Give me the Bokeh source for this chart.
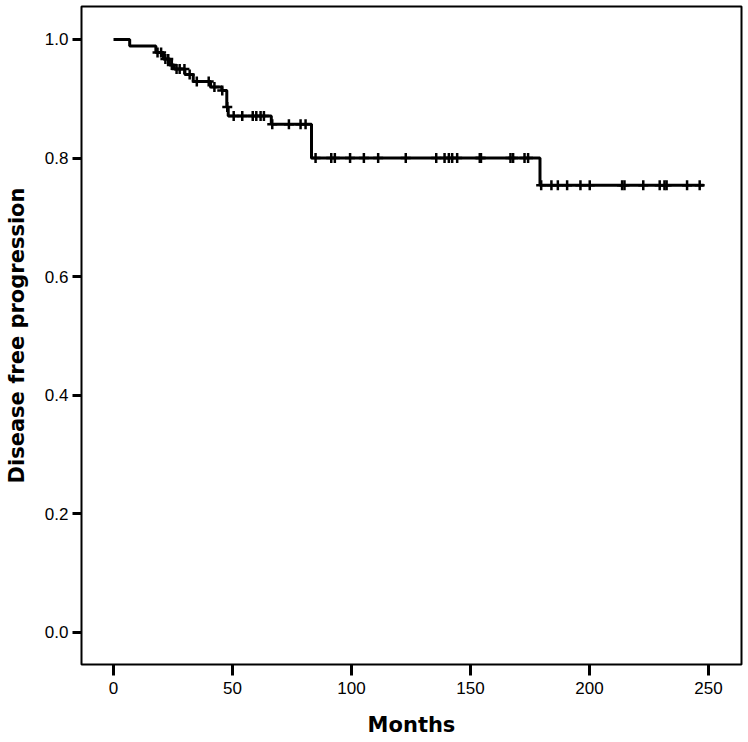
import numpy as np
from bokeh.plotting import figure
from bokeh.models import Range1d, FixedTicker, CustomJSTickFormatter
from bokeh.embed import file_html
from bokeh.resources import INLINE

# Kaplan-Meier step points (months, survival after the step)
step_months = [0, 6.8, 17.8, 21.0, 23.5, 25.5, 30.0, 33.5, 40.8, 45.5, 47.6, 48.2, 66.3, 83.2, 179.2, 248.0]
step_surv = [1.0, 0.989, 0.978, 0.967, 0.957, 0.950, 0.941, 0.929, 0.920, 0.914, 0.886, 0.871, 0.857, 0.800, 0.754, 0.754]

# censored observations (months)
censor_months = [18.5, 20.0, 21.8, 23.0, 24.5, 26.5, 27.8, 29.8, 32.0, 35.0, 40.0, 42.4, 45.7, 47.8,
                 50.5, 54.1, 58.5, 60.0, 61.8, 63.2, 66.7, 73.7, 78.6, 80.7,
                 84.9, 91.5, 93.0, 99.4, 105.2, 111.2, 122.8, 135.6, 139.1, 140.9, 142.3, 144.4,
                 153.9, 154.4, 166.8, 167.9, 172.7, 174.2,
                 179.7, 184.0, 186.7, 190.6, 196.2, 200.1, 213.7, 214.7, 222.6, 229.5, 231.5, 232.4,
                 241.0, 246.3]

x_ticks = [0, 50, 100, 150, 200, 250]
y_ticks = [0.0, 0.2, 0.4, 0.6, 0.8, 1.0]
x_title = "Months"
y_title = "Disease free progression"

st = np.array(step_months)
ss = np.array(step_surv)
cm = np.array(censor_months)
idx = np.searchsorted(st, cm, side="right") - 1
cs = ss[idx]

TICK_FONT = "Liberation Sans"
TITLE_FONT = "DejaVu Sans"

p = figure(width=746, height=740, output_backend="svg", toolbar_location=None,
           x_range=Range1d(-13.45, 263.87), y_range=Range1d(-0.054, 1.0556),
           min_border_left=81, min_border_right=5, min_border_top=6, min_border_bottom=76)

p.step(st, ss, mode="after", line_color="black", line_width=3)
p.scatter(cm, cs, marker="cross", size=10, line_color="black", line_width=2.5)

p.xgrid.visible = False
p.ygrid.visible = False
p.outline_line_color = "black"
p.outline_line_width = 2
p.background_fill_color = "white"
p.border_fill_color = "white"

for ax in (p.xaxis[0], p.yaxis[0]):
    ax.axis_line_color = None
    ax.major_tick_line_color = "black"
    ax.major_tick_line_width = 3
    ax.major_tick_in = 0
    ax.minor_tick_line_color = None
    ax.major_label_text_font = TICK_FONT
    ax.major_label_text_font_size = "17px"
    ax.major_label_text_color = "black"
    ax.axis_label_text_font = TITLE_FONT
    ax.axis_label_text_font_style = "bold"
    ax.axis_label_text_font_size = "21px"
    ax.axis_label_text_color = "black"

p.xaxis[0].ticker = FixedTicker(ticks=x_ticks)
p.yaxis[0].ticker = FixedTicker(ticks=y_ticks)
p.yaxis[0].formatter = CustomJSTickFormatter(code="return tick.toFixed(1);")

p.xaxis[0].major_tick_out = 11
p.xaxis[0].major_label_standoff = 6
p.xaxis[0].axis_label = x_title
p.xaxis[0].axis_label_standoff = 16

p.yaxis[0].major_tick_out = 9
p.yaxis[0].major_label_standoff = 4
p.yaxis[0].axis_label = y_title
p.yaxis[0].axis_label_standoff = 13

open("out.html", "w").write(file_html(p, INLINE))
